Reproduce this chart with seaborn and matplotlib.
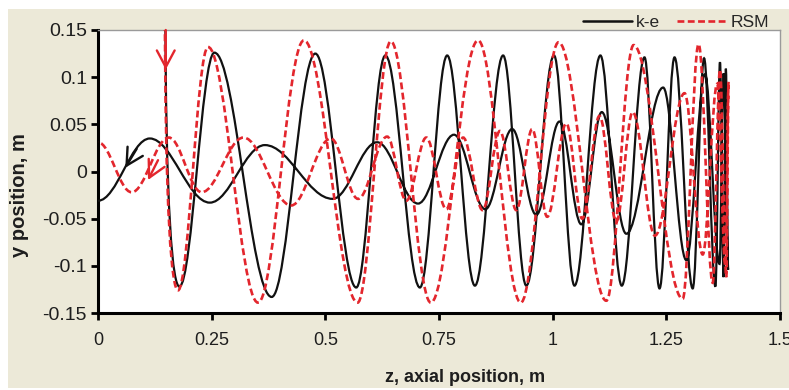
import matplotlib
matplotlib.use("Agg")
import matplotlib.pyplot as plt
import seaborn as sns
import numpy as np
import pandas as pd
from matplotlib.path import Path
from matplotlib.patches import PathPatch, Rectangle
from matplotlib.lines import Line2D

# ---------------- data ----------------
series_names = ["k-e", "RSM"]

# k-e trajectory: turning points (z, y) in path order
# outer spiral going down, then inner vortex coming back to z = 0
ke_z = [0.148, 0.179, 0.256, 0.382, 0.478, 0.568, 0.632, 0.708, 0.768, 0.829,
        0.891, 0.942, 1.003, 1.048, 1.105, 1.152, 1.202, 1.235, 1.268, 1.308,
        1.333, 1.358, 1.368, 1.376, 1.381, 1.386,
        1.376, 1.367, 1.335, 1.294, 1.243, 1.162, 1.108, 1.063, 1.015, 0.964,
        0.911, 0.852, 0.783, 0.704, 0.614, 0.516, 0.367, 0.246, 0.114, 0.0]
ke_y = [0.200, -0.122, 0.126, -0.133, 0.125, -0.123, 0.123, -0.123, 0.123, -0.121,
        0.123, -0.121, 0.123, -0.121, 0.123, -0.121, 0.121, -0.124, 0.121, -0.124,
        0.120, -0.122, 0.116, -0.112, 0.109, -0.104,
        0.104, -0.098, 0.103, -0.094, 0.089, -0.066, 0.063, -0.056, 0.053, -0.046,
        0.045, -0.040, 0.039, -0.034, 0.031, -0.029, 0.028, -0.033, 0.035, -0.031]

rsm_z = [0.147, 0.176, 0.242, 0.352, 0.453, 0.571, 0.644, 0.732, 0.836, 0.930,
         1.013, 1.118, 1.178, 1.286, 1.321, 1.352, 1.368, 1.382, 1.387,
         1.380, 1.362, 1.330, 1.290, 1.225, 1.176, 1.140, 1.103, 1.065, 1.030,
         0.988, 0.955, 0.920, 0.884, 0.846, 0.803, 0.766, 0.722, 0.678, 0.636,
         0.572, 0.512, 0.425, 0.320, 0.228, 0.156, 0.074, 0.0]
rsm_y = [0.200, -0.126, 0.132, -0.139, 0.139, -0.139, 0.138, -0.139, 0.139, -0.139,
         0.137, -0.137, 0.134, -0.135, 0.135, -0.118, 0.108, -0.112, 0.095,
         -0.100, 0.093, -0.088, 0.083, -0.068, 0.063, -0.053, 0.059, -0.050, 0.051,
         -0.048, 0.045, -0.041, 0.043, -0.041, 0.036, -0.040, 0.036, -0.031, 0.037,
         -0.029, 0.035, -0.036, 0.036, -0.022, 0.036, -0.022, 0.031]

# direction arrows (tail z, tail y, head z, head y)
ke_arrows = [(0.085, 0.024, 0.060, 0.004)]
rsm_arrows = [(0.149, 0.150, 0.149, 0.108), (0.132, 0.012, 0.110, -0.009)]

x_ticks = [0, 0.25, 0.5, 0.75, 1, 1.25, 1.5]
x_tick_labels = ["0", "0.25", "0.5", "0.75", "1", "1.25", "1.5"]
y_ticks = [-0.15, -0.1, -0.05, 0, 0.05, 0.1, 0.15]
y_tick_labels = ["-0.15", "-0.1", "-0.05", "0", "0.05", "0.1", "0.15"]
x_label = "z, axial position, m"
y_label = "y position, m"

# ---------------- style ----------------
sns.set_theme(style="ticks")
plt.rcParams["font.family"] = ["Liberation Sans", "DejaVu Sans"]

ke_color = "#111111"
rsm_color = "#e3262d"
beige = "#ece9d8"
text_color = "#1e1e1e"

fig = plt.figure(figsize=(7.89, 3.90), dpi=100)
fig.patch.set_facecolor("white")
fig.patches.append(Rectangle((8 / 789, 2 / 390), 1 - 8 / 789, 379 / 390,
                             transform=fig.transFigure, facecolor=beige,
                             edgecolor="none", zorder=-10))

ax = fig.add_axes([98 / 789, 1 - 313 / 390, 682 / 789, 283 / 390])
ax.set_facecolor("white")


def smooth_path(z, y):
    """Smooth curve through turning points (horizontal tangents at extrema)."""
    k = 0.3634
    verts = [(z[0], y[0])]
    codes = [Path.MOVETO]
    for i in range(1, len(z)):
        x0, y0, x1, y1 = z[i - 1], y[i - 1], z[i], y[i]
        dx = x1 - x0
        if i == 1:
            c1 = (x0, y0 + 0.78 * (y1 - y0))
            c2 = (x1 - 0.45 * dx, y1)
        else:
            c1 = (x0 + k * dx, y0)
            c2 = (x1 - k * dx, y1)
        verts += [c1, c2, (x1, y1)]
        codes += [Path.CURVE4] * 3
    return Path(verts, codes)


ke_patch = PathPatch(smooth_path(ke_z, ke_y), facecolor="none", edgecolor=ke_color,
                     lw=1.6, zorder=3)
rsm_patch = PathPatch(smooth_path(rsm_z, rsm_y), facecolor="none", edgecolor=rsm_color,
                      lw=1.9, linestyle=(0, (2.6, 1.3)), zorder=4)
ax.add_patch(ke_patch)
ax.add_patch(rsm_patch)

arrow_style = "->,head_length=0.6,head_width=0.32"
for (x0, y0, x1, y1) in ke_arrows:
    ax.annotate("", xy=(x1, y1), xytext=(x0, y0),
                arrowprops=dict(arrowstyle=arrow_style, color=ke_color, lw=1.7,
                                shrinkA=0, shrinkB=0, mutation_scale=20), zorder=5)
for (x0, y0, x1, y1) in rsm_arrows:
    ax.annotate("", xy=(x1, y1), xytext=(x0, y0),
                arrowprops=dict(arrowstyle=arrow_style, color=rsm_color, lw=1.7,
                                shrinkA=0, shrinkB=0, mutation_scale=20), zorder=5)

ax.set_xlim(0, 1.5)
ax.set_ylim(-0.15, 0.15)
ax.set_xticks(x_ticks)
ax.set_xticklabels(x_tick_labels)
ax.set_yticks(y_ticks)
ax.set_yticklabels(y_tick_labels)
ax.tick_params(axis="both", which="major", direction="out", length=5, width=2,
               color="black", labelcolor=text_color, top=False, right=False)
ax.tick_params(axis="x", pad=9, labelsize=13)
ax.tick_params(axis="y", pad=3, labelsize=14)
for side in ["left", "bottom"]:
    ax.spines[side].set_color("black")
    ax.spines[side].set_linewidth(2.2)
for side in ["top", "right"]:
    ax.spines[side].set_color("#9a9a9a")
    ax.spines[side].set_linewidth(1.0)
ax.grid(False)

ax.set_xlabel(x_label, fontsize=13, fontweight="bold", color=text_color)
ax.xaxis.set_label_coords((465 - 98) / 682, -(369 - 313) / 283)
ax.set_ylabel(y_label, fontsize=14.5, fontweight="bold", color=text_color)
ax.yaxis.set_label_coords(-(98 - 29) / 682, (313 - 195) / 283)

handles = [Line2D([], [], color=ke_color, lw=1.8),
           Line2D([], [], color=rsm_color, lw=1.9, linestyle=(0, (2.6, 1.3)))]
fig.legend(handles, series_names, loc="center left",
           bbox_to_anchor=(583 / 789, 1 - 22 / 390), ncol=2, frameon=False,
           fontsize=12.5, handlelength=2.8, handletextpad=0.25,
           columnspacing=1.0, borderpad=0, borderaxespad=0)

fig.savefig("out.png", dpi=100, facecolor=fig.get_facecolor())
